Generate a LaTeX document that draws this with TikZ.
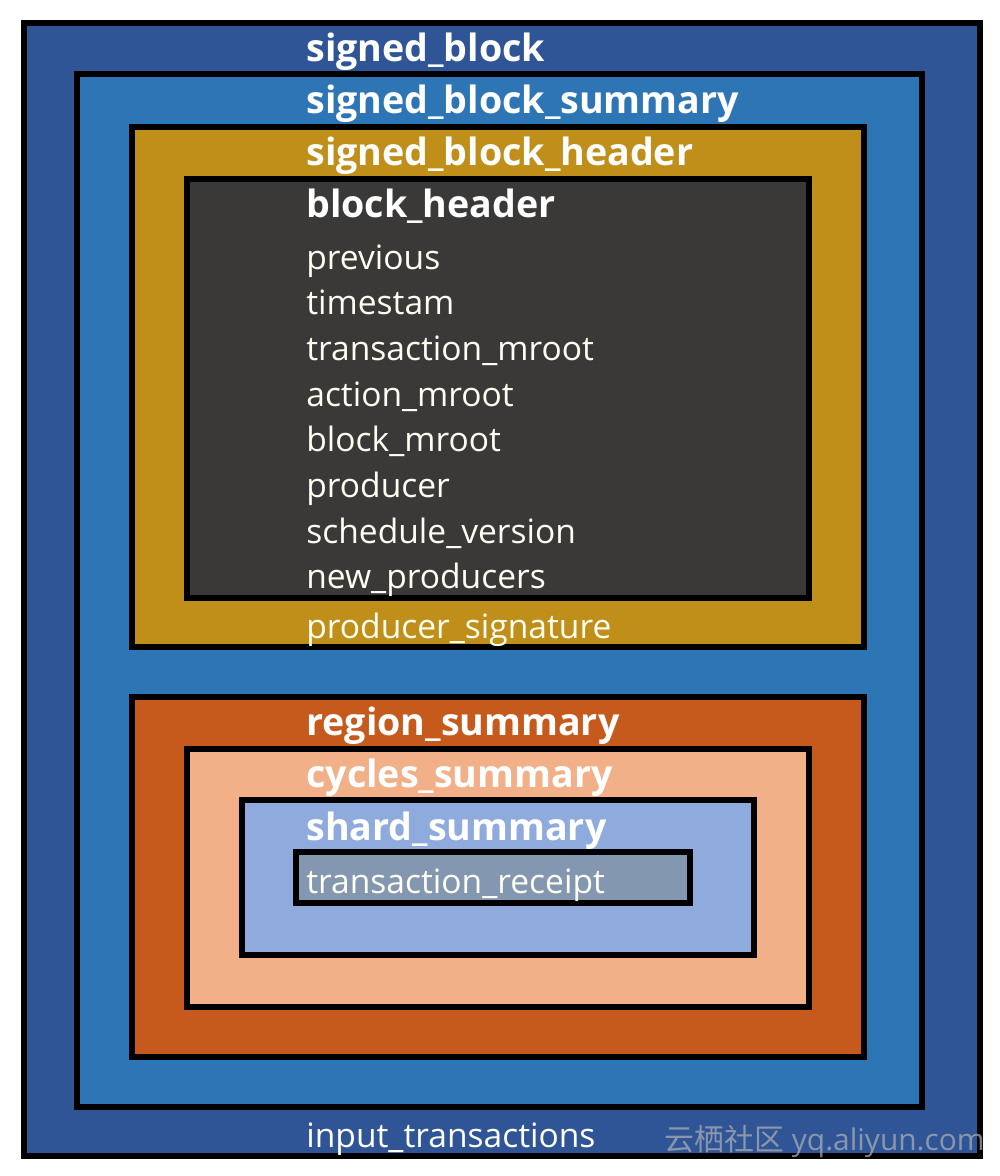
\documentclass[tikz,border=0pt]{standalone}
\usepackage{fontspec}
\setmainfont{Open Sans}
\newfontfamily\cjkfont{Noto Sans CJK SC}
\usepackage{xcolor}
\definecolor{blkdarkblue}{HTML}{2F5597}
\definecolor{blkblue}{HTML}{2E75B6}
\definecolor{blkgold}{HTML}{BF8F1A}
\definecolor{blkgray}{HTML}{3B3838}
\definecolor{blkorange}{HTML}{C55A1C}
\definecolor{blkpeach}{HTML}{F2B089}
\definecolor{blklightblue}{HTML}{8FAADC}
\definecolor{blkslate}{HTML}{8497B0}
\usepackage{tikz}
\usetikzlibrary{positioning}

\tikzset{
  layer/.style={draw=black, line width=3pt},
  title/.style={anchor=base west, inner sep=0pt, text=white, font=\fontsize{21.4}{25}\selectfont\bfseries},
  field/.style={anchor=base west, inner sep=0pt, text=white!95!yellow, font=\fontsize{19.1}{22}\selectfont}
}

\begin{document}
\begin{tikzpicture}[x=0.02cm, y=-0.02cm]

% Canvas
\fill[white] (0,0) rectangle (1000,1176);
\useasboundingbox (0,0) rectangle (1000,1176);

% Nested layers, outermost first
\path[layer, fill=blkdarkblue]  (24,23)   rectangle (980,1156);
\path[layer, fill=blkblue]      (77,74)   rectangle (922,1107);
\path[layer, fill=blkgold]      (132,127) rectangle (864,647);
\path[layer, fill=blkgray]      (187,179) rectangle (809,598);
\path[layer, fill=blkorange]    (132,697) rectangle (864,1057);
\path[layer, fill=blkpeach]     (187,749) rectangle (809,1007);
\path[layer, fill=blklightblue] (242,800) rectangle (754,955);
\path[layer, fill=blkslate]     (296,852) rectangle (690,903);

% Layer titles
\node[title] (sblock)   at (306,62)  {signed\_block};
\node[title] (ssummary) at (306,113) {signed\_block\_summary};
\node[title] (sheader)  at (306,165) {signed\_block\_header};
\node[title] (bheader)  at (306,217) {block\_header};

% block_header fields
\node[field] (previous)  at (306,269) {previous};
\node[field] (timestam)  at (306,314) {timestam};
\node[field] (txmroot)   at (306,360) {transaction\_mroot};
\node[field] (actmroot)  at (306,406) {action\_mroot};
\node[field] (blkmroot)  at (306,451) {block\_mroot};
\node[field] (producer)  at (306,497) {producer};
\node[field] (schedver)  at (306,543) {schedule\_version};
\node[field] (newprod)   at (306,588) {new\_producers};
\node[field] (prodsig)   at (306,638) {producer\_signature};

% Summary layers
\node[title] (rsummary) at (306,735) {region\_summary};
\node[title] (csummary) at (306,787) {cycles\_summary};
\node[title] (hsummary) at (306,840) {shard\_summary};
\node[field] (receipt)  at (306,893) {transaction\_receipt};

\node[field] (inputtx)  at (306,1147) {input\_transactions};

% Watermark
\node[anchor=base east, inner sep=0pt, text=gray!60, opacity=0.7,
      font=\fontsize{17}{20}\selectfont] (mark) at (985,1150)
      {{\cjkfont 云栖社区} yq.aliyun.com};

\end{tikzpicture}
\end{document}
